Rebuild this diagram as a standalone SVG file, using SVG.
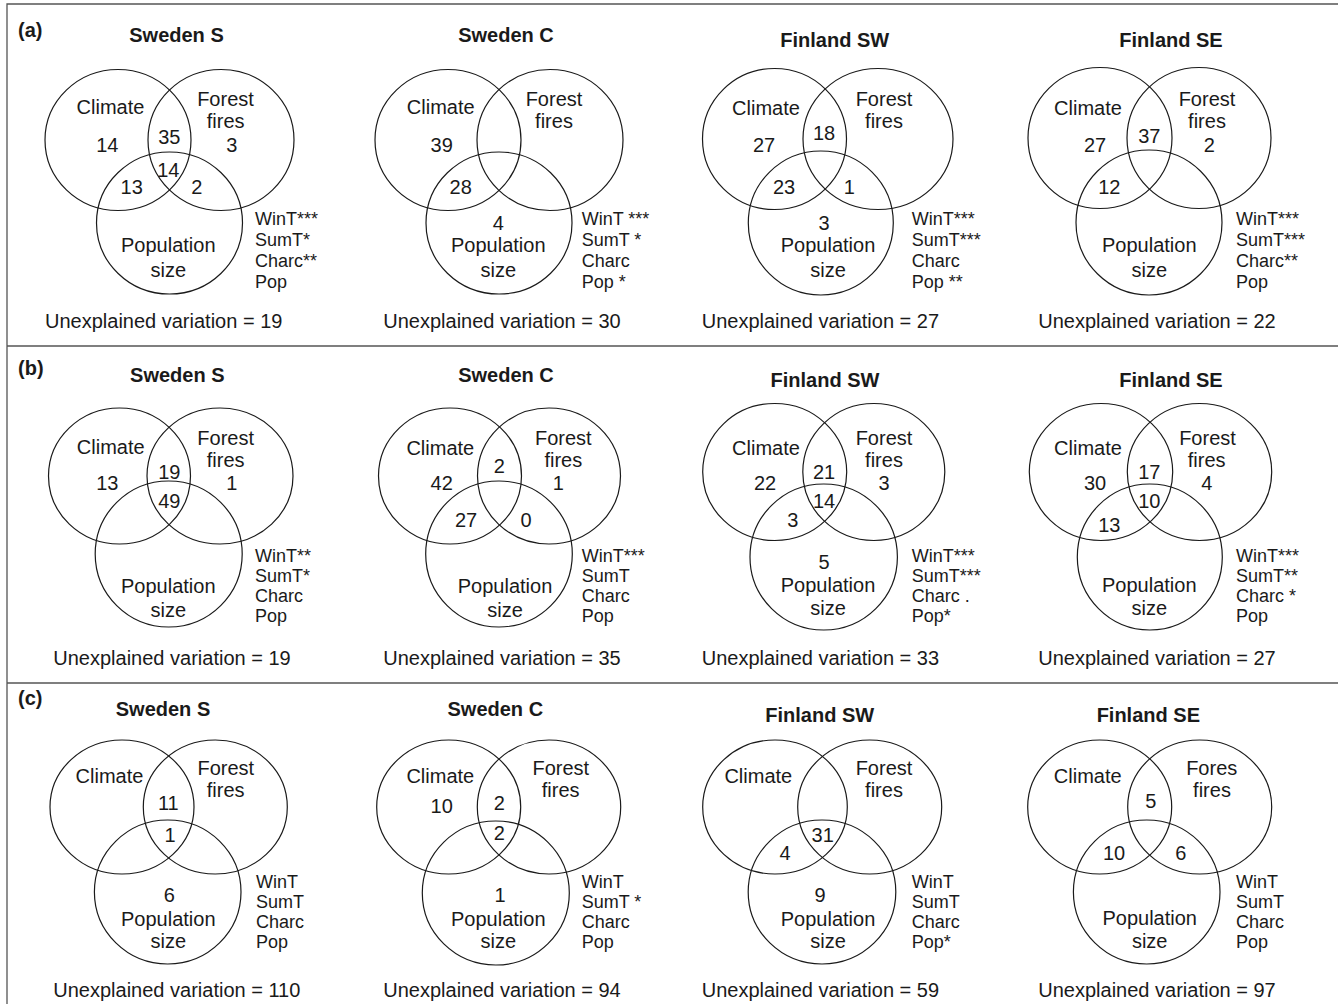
<svg xmlns="http://www.w3.org/2000/svg" width="1338" height="1004" viewBox="0 0 1338 1004">
<style>
.frame{stroke:#555;stroke-width:1.3;fill:none}
.c{fill:none;stroke:#1a1a1a;stroke-width:1.2}
text{font-family:"Liberation Sans",Arial,sans-serif;fill:#1a1a1a}
.t{font-size:20px;font-weight:bold;text-anchor:middle}
.p{font-size:20px;font-weight:bold}
.l{font-size:20px;text-anchor:middle}
.s{font-size:18px}
.u{font-size:20px}
</style>
<rect width="1338" height="1004" fill="#fff"/>
<g id="frame">
<path class="frame" d="M7,1004 V4 H1338 M7,346 H1338 M7,683 H1338"/>
</g>
<g id="connectors"></g>
<!-- Row (a) -->
<g id="panel-a">
<text class="p" x="18" y="37">(a)</text>
<g id="a-sweden-s">
<text class="t" x="176.5" y="41.5">Sweden S</text>
<ellipse class="c" cx="118" cy="140" rx="73" ry="70.5"/>
<ellipse class="c" cx="221" cy="140" rx="73" ry="70.5"/>
<ellipse class="c" cx="169.5" cy="223" rx="73" ry="71"/>
<text class="l" x="110.5" y="114">Climate</text>
<text class="l" x="225.5" y="106">Forest</text>
<text class="l" x="225.7" y="128.3">fires</text>
<text class="l" x="107.3" y="151.7">14</text>
<text class="l" x="169.3" y="144">35</text>
<text class="l" x="231.7" y="152">3</text>
<text class="l" x="168.3" y="176.7">14</text>
<text class="l" x="131.7" y="194">13</text>
<text class="l" x="196.7" y="194">2</text>
<text class="l" x="168.3" y="251.7">Population</text>
<text class="l" x="168.3" y="276.7">size</text>
<text class="s" x="255" y="225">WinT***</text>
<text class="s" x="255" y="246">SumT*</text>
<text class="s" x="255" y="267">Charc**</text>
<text class="s" x="255" y="288">Pop</text>
<text class="u" x="45" y="328">Unexplained variation = 19</text>
</g>
<g id="a-sweden-c">
<text class="t" x="506" y="41.5">Sweden C</text>
<ellipse class="c" cx="448" cy="140" rx="73" ry="70.5"/>
<ellipse class="c" cx="550" cy="140" rx="73" ry="70.5"/>
<ellipse class="c" cx="499" cy="223" rx="73" ry="71"/>
<text class="l" x="440.7" y="114">Climate</text>
<text class="l" x="554" y="106">Forest</text>
<text class="l" x="554" y="128.3">fires</text>
<text class="l" x="441.7" y="151.7">39</text>
<text class="l" x="460.7" y="194">28</text>
<text class="l" x="498.3" y="229.5">4</text>
<text class="l" x="498.3" y="252">Population</text>
<text class="l" x="498.3" y="276.7">size</text>
<text class="s" x="581.7" y="225">WinT ***</text>
<text class="s" x="581.7" y="246">SumT *</text>
<text class="s" x="581.7" y="267">Charc</text>
<text class="s" x="581.7" y="288">Pop *</text>
<text class="u" x="383.3" y="328">Unexplained variation = 30</text>
</g>
<g id="a-finland-sw">
<text class="t" x="834.7" y="46.7">Finland SW</text>
<ellipse class="c" cx="774.5" cy="139" rx="72" ry="70.5"/>
<ellipse class="c" cx="878" cy="139" rx="75" ry="70.5"/>
<ellipse class="c" cx="820.8" cy="223" rx="72.5" ry="72"/>
<text class="l" x="766" y="115">Climate</text>
<text class="l" x="884" y="106">Forest</text>
<text class="l" x="884" y="128.3">fires</text>
<text class="l" x="824" y="140">18</text>
<text class="l" x="764" y="151.7">27</text>
<text class="l" x="784" y="194">23</text>
<text class="l" x="849.3" y="194">1</text>
<text class="l" x="824" y="229.5">3</text>
<text class="l" x="828" y="252">Population</text>
<text class="l" x="828" y="276.7">size</text>
<text class="s" x="911.7" y="225">WinT***</text>
<text class="s" x="911.7" y="246">SumT***</text>
<text class="s" x="911.7" y="267">Charc</text>
<text class="s" x="911.7" y="288">Pop **</text>
<text class="u" x="701.7" y="328">Unexplained variation = 27</text>
</g>
<g id="a-finland-se">
<text class="t" x="1171" y="46.7">Finland SE</text>
<ellipse class="c" cx="1100" cy="138" rx="72" ry="70.5"/>
<ellipse class="c" cx="1199" cy="138" rx="72" ry="70.5"/>
<ellipse class="c" cx="1149" cy="222.5" rx="73" ry="72.5"/>
<text class="l" x="1088" y="115">Climate</text>
<text class="l" x="1207" y="106">Forest</text>
<text class="l" x="1207" y="128.3">fires</text>
<text class="l" x="1095" y="151.7">27</text>
<text class="l" x="1149.3" y="143.3">37</text>
<text class="l" x="1209.3" y="151.7">2</text>
<text class="l" x="1109.3" y="194">12</text>
<text class="l" x="1149.3" y="251.7">Population</text>
<text class="l" x="1149.3" y="276.7">size</text>
<text class="s" x="1236" y="225">WinT***</text>
<text class="s" x="1236" y="246">SumT***</text>
<text class="s" x="1236" y="267">Charc**</text>
<text class="s" x="1236" y="288">Pop</text>
<text class="u" x="1038.3" y="328">Unexplained variation = 22</text>
</g>
</g>
<!-- Row (b) -->
<g id="panel-b">
<text class="p" x="18" y="375">(b)</text>
<g id="b-sweden-s">
<text class="t" x="177.3" y="382.3">Sweden S</text>
<ellipse class="c" cx="119.5" cy="476" rx="71" ry="68"/>
<ellipse class="c" cx="220" cy="476" rx="73" ry="68"/>
<ellipse class="c" cx="168.7" cy="554" rx="73.5" ry="73"/>
<text class="l" x="110.7" y="454.3">Climate</text>
<text class="l" x="225.7" y="445">Forest</text>
<text class="l" x="225.7" y="466.7">fires</text>
<text class="l" x="107.3" y="490">13</text>
<text class="l" x="169.3" y="479.3">19</text>
<text class="l" x="231.7" y="490">1</text>
<text class="l" x="169.3" y="508.3">49</text>
<text class="l" x="168.3" y="593.3">Population</text>
<text class="l" x="168.3" y="616.7">size</text>
<text class="s" x="255" y="562">WinT**</text>
<text class="s" x="255" y="582">SumT*</text>
<text class="s" x="255" y="602">Charc</text>
<text class="s" x="255" y="622">Pop</text>
<text class="u" x="53.3" y="665">Unexplained variation = 19</text>
</g>
<g id="b-sweden-c">
<text class="t" x="506" y="382.3">Sweden C</text>
<ellipse class="c" cx="450" cy="476" rx="71.5" ry="68"/>
<ellipse class="c" cx="549" cy="476" rx="71.5" ry="68"/>
<ellipse class="c" cx="499" cy="554" rx="73.3" ry="73"/>
<text class="l" x="440.3" y="455">Climate</text>
<text class="l" x="563.3" y="445">Forest</text>
<text class="l" x="563.3" y="466.7">fires</text>
<text class="l" x="499.3" y="473.3">2</text>
<text class="l" x="441.7" y="490">42</text>
<text class="l" x="558.3" y="490">1</text>
<text class="l" x="466" y="526.7">27</text>
<text class="l" x="526" y="526.7">0</text>
<text class="l" x="505" y="593.3">Population</text>
<text class="l" x="505" y="616.7">size</text>
<text class="s" x="581.7" y="562">WinT***</text>
<text class="s" x="581.7" y="582">SumT</text>
<text class="s" x="581.7" y="602">Charc</text>
<text class="s" x="581.7" y="622">Pop</text>
<text class="u" x="383.3" y="665">Unexplained variation = 35</text>
</g>
<g id="b-finland-sw">
<text class="t" x="825" y="386.7">Finland SW</text>
<ellipse class="c" cx="774.7" cy="472" rx="72" ry="68.5"/>
<ellipse class="c" cx="873.8" cy="472" rx="71" ry="68.5"/>
<ellipse class="c" cx="823.7" cy="557" rx="73.7" ry="73"/>
<text class="l" x="766" y="455">Climate</text>
<text class="l" x="884" y="445">Forest</text>
<text class="l" x="884" y="466.7">fires</text>
<text class="l" x="765" y="490">22</text>
<text class="l" x="824" y="479.3">21</text>
<text class="l" x="884" y="490">3</text>
<text class="l" x="824" y="508.3">14</text>
<text class="l" x="792.7" y="526.7">3</text>
<text class="l" x="824" y="569">5</text>
<text class="l" x="828" y="592">Population</text>
<text class="l" x="828" y="615">size</text>
<text class="s" x="911.7" y="562">WinT***</text>
<text class="s" x="911.7" y="582">SumT***</text>
<text class="s" x="911.7" y="602">Charc .</text>
<text class="s" x="911.7" y="622">Pop*</text>
<text class="u" x="701.7" y="665">Unexplained variation = 33</text>
</g>
<g id="b-finland-se">
<text class="t" x="1171" y="386.7">Finland SE</text>
<ellipse class="c" cx="1101" cy="472" rx="71.7" ry="68.5"/>
<ellipse class="c" cx="1199.5" cy="472" rx="72.2" ry="68.5"/>
<ellipse class="c" cx="1149.8" cy="557" rx="72.5" ry="73"/>
<text class="l" x="1088" y="455">Climate</text>
<text class="l" x="1207.5" y="445">Forest</text>
<text class="l" x="1206.7" y="466.7">fires</text>
<text class="l" x="1095" y="490">30</text>
<text class="l" x="1149.3" y="479.3">17</text>
<text class="l" x="1206.7" y="490">4</text>
<text class="l" x="1149.3" y="508.3">10</text>
<text class="l" x="1109.3" y="531.7">13</text>
<text class="l" x="1149.3" y="591.7">Population</text>
<text class="l" x="1149.3" y="615">size</text>
<text class="s" x="1236" y="562">WinT***</text>
<text class="s" x="1236" y="582">SumT**</text>
<text class="s" x="1236" y="602">Charc *</text>
<text class="s" x="1236" y="622">Pop</text>
<text class="u" x="1038.3" y="665">Unexplained variation = 27</text>
</g>
</g>
<!-- Row (c) -->
<g id="panel-c">
<text class="p" x="18" y="705">(c)</text>
<g id="c-sweden-s">
<text class="t" x="163" y="715.7">Sweden S</text>
<ellipse class="c" cx="122" cy="807" rx="72" ry="67"/>
<ellipse class="c" cx="215.3" cy="807" rx="72" ry="67"/>
<ellipse class="c" cx="167.7" cy="892" rx="73.3" ry="72"/>
<text class="l" x="109.5" y="783.3">Climate</text>
<text class="l" x="225.8" y="775">Forest</text>
<text class="l" x="225.7" y="796.7">fires</text>
<text class="l" x="168.3" y="810">11</text>
<text class="l" x="170" y="841.7">1</text>
<text class="l" x="169.3" y="902">6</text>
<text class="l" x="168.3" y="925.5">Population</text>
<text class="l" x="168.3" y="948.3">size</text>
<text class="s" x="256" y="888">WinT</text>
<text class="s" x="256" y="908">SumT</text>
<text class="s" x="256" y="928">Charc</text>
<text class="s" x="256" y="948">Pop</text>
<text class="u" x="53.3" y="997">Unexplained variation = 110</text>
</g>
<g id="c-sweden-c">
<text class="t" x="495.3" y="715.7">Sweden C</text>
<ellipse class="c" cx="448.7" cy="807" rx="72" ry="67"/>
<ellipse class="c" cx="549" cy="807" rx="71.7" ry="67"/>
<ellipse class="c" cx="495.8" cy="893" rx="73.5" ry="72"/>
<text class="l" x="440.3" y="783.3">Climate</text>
<text class="l" x="560.8" y="775">Forest</text>
<text class="l" x="560.7" y="796.7">fires</text>
<text class="l" x="441.7" y="813.3">10</text>
<text class="l" x="499.3" y="810">2</text>
<text class="l" x="499.3" y="840">2</text>
<text class="l" x="500" y="902">1</text>
<text class="l" x="498.3" y="925.5">Population</text>
<text class="l" x="498.3" y="948.3">size</text>
<text class="s" x="581.7" y="888">WinT</text>
<text class="s" x="581.7" y="908">SumT *</text>
<text class="s" x="581.7" y="928">Charc</text>
<text class="s" x="581.7" y="948">Pop</text>
<text class="u" x="383.3" y="997">Unexplained variation = 94</text>
</g>
<g id="c-finland-sw">
<text class="t" x="819.7" y="721.7">Finland SW</text>
<ellipse class="c" cx="775" cy="807" rx="72.3" ry="67"/>
<ellipse class="c" cx="869.7" cy="807" rx="72" ry="67"/>
<ellipse class="c" cx="822" cy="892" rx="73.8" ry="72"/>
<text class="l" x="758.3" y="783.3">Climate</text>
<text class="l" x="884" y="775">Forest</text>
<text class="l" x="884" y="796.7">fires</text>
<text class="l" x="822.7" y="841.7">31</text>
<text class="l" x="785" y="860">4</text>
<text class="l" x="820" y="902">9</text>
<text class="l" x="828" y="925.5">Population</text>
<text class="l" x="828" y="948.3">size</text>
<text class="s" x="911.7" y="888">WinT</text>
<text class="s" x="911.7" y="908">SumT</text>
<text class="s" x="911.7" y="928">Charc</text>
<text class="s" x="911.7" y="948">Pop*</text>
<text class="u" x="701.7" y="997">Unexplained variation = 59</text>
</g>
<g id="c-finland-se">
<text class="t" x="1148.3" y="721.7">Finland SE</text>
<ellipse class="c" cx="1099.7" cy="807" rx="72" ry="67"/>
<ellipse class="c" cx="1199.7" cy="807" rx="72" ry="67"/>
<ellipse class="c" cx="1146.7" cy="892" rx="73.3" ry="72"/>
<text class="l" x="1087.7" y="783.3">Climate</text>
<text class="l" x="1211.7" y="775">Fores</text>
<text class="l" x="1212" y="796.7">fires</text>
<text class="l" x="1150.7" y="808.3">5</text>
<text class="l" x="1114" y="860">10</text>
<text class="l" x="1180.7" y="860">6</text>
<text class="l" x="1149.7" y="925">Population</text>
<text class="l" x="1149.7" y="948.3">size</text>
<text class="s" x="1236" y="888">WinT</text>
<text class="s" x="1236" y="908">SumT</text>
<text class="s" x="1236" y="928">Charc</text>
<text class="s" x="1236" y="948">Pop</text>
<text class="u" x="1038.3" y="997">Unexplained variation = 97</text>
</g>
</g>
</svg>
